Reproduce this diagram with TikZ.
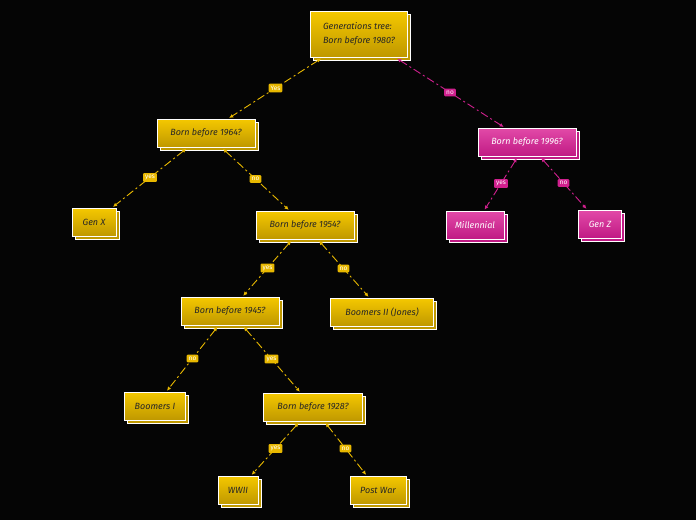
\documentclass[tikz,border=0pt]{standalone}
\usepackage{fontspec}
\setmainfont{Fira Sans}
\usetikzlibrary{shadows,arrows.meta}
\definecolor{ytop}{HTML}{F5C800}
\definecolor{ybot}{HTML}{BF9800}
\definecolor{ptop}{HTML}{E24AA8}
\definecolor{pbot}{HTML}{C01A84}
\definecolor{yline}{HTML}{E8B800}
\definecolor{pline}{HTML}{D0208E}
\tikzset{
 box/.style={rectangle,draw=white,line width=1pt,minimum height=28pt,inner xsep=8pt,font=\itshape\fontsize{9}{14}\selectfont,align=left},
 ybox/.style={box,top color=ytop,bottom color=ybot,text=black!85,
   general shadow={shadow xshift=3pt,shadow yshift=-3pt,fill=ybot,draw=white,line width=1pt}},
 pbox/.style={box,top color=ptop,bottom color=pbot,text=white,
   general shadow={shadow xshift=3pt,shadow yshift=-3pt,fill=pbot,draw=white,line width=1pt}},
 edge/.style={line width=0.9pt,dash pattern=on 8pt off 3pt on 2pt off 3pt,{Latex[length=4pt,width=4pt]}-{Latex[length=4pt,width=4pt]},shorten <=2pt,shorten >=1pt},
 yedge/.style={edge,draw=yline},
 pedge/.style={edge,draw=pline},
 lab/.style={rounded corners=1pt,inner sep=2pt,font=\fontsize{6.5}{7}\selectfont,text=white,solid},
 ylab/.style={lab,fill=yline},
 plab/.style={lab,fill=pline},
}
\begin{document}
\begin{tikzpicture}[x=1pt,y=-1pt]
\fill[black!98] (0,0) rectangle (696,520);
\useasboundingbox (0,0) rectangle (696,520);
\node[ybox,minimum width=97pt,minimum height=46pt] (root) at (359,34) {Generations tree:\\Born before 1980?};
\node[ybox,minimum width=98pt] (b64) at (206,133) {Born before 1964?};
\node[pbox,minimum width=98pt] (b96) at (527,142) {Born before 1996?};
\node[ybox,minimum width=44pt] (gx) at (94,222) {Gen X};
\node[ybox,minimum width=98pt] (b54) at (305,225) {Born before 1954?};
\node[pbox,minimum width=58pt] (mil) at (475,225) {Millennial};
\node[pbox,minimum width=43pt] (gz) at (600,224) {Gen Z};
\node[ybox,minimum width=98pt] (b45) at (230,311) {Born before 1945?};
\node[ybox,minimum width=103pt] (b2) at (382,312) {Boomers II (Jones)};
\node[ybox,minimum width=61pt] (b1) at (155,406) {Boomers I};
\node[ybox,minimum width=99pt] (b28) at (313,407) {Born before 1928?};
\node[ybox,minimum width=40pt] (ww) at (238,490) {WWII};
\node[ybox,minimum width=56pt] (pw) at (378,490) {Post War};
\draw[yedge] (root) -- node[ylab]{Yes} (b64);
\draw[pedge] (root) -- node[plab]{no} (b96);
\draw[yedge] (b64) -- node[ylab]{yes} (gx);
\draw[yedge] (b64) -- node[ylab]{no} (b54);
\draw[pedge] (b96) -- node[plab]{yes} (mil);
\draw[pedge] (b96) -- node[plab]{no} (gz);
\draw[yedge] (b54) -- node[ylab]{yes} (b45);
\draw[yedge] (b54) -- node[ylab]{no} (b2);
\draw[yedge] (b45) -- node[ylab]{no} (b1);
\draw[yedge] (b45) -- node[ylab]{yes} (b28);
\draw[yedge] (b28) -- node[ylab]{yes} (ww);
\draw[yedge] (b28) -- node[ylab]{no} (pw);
\end{tikzpicture}
\end{document}
